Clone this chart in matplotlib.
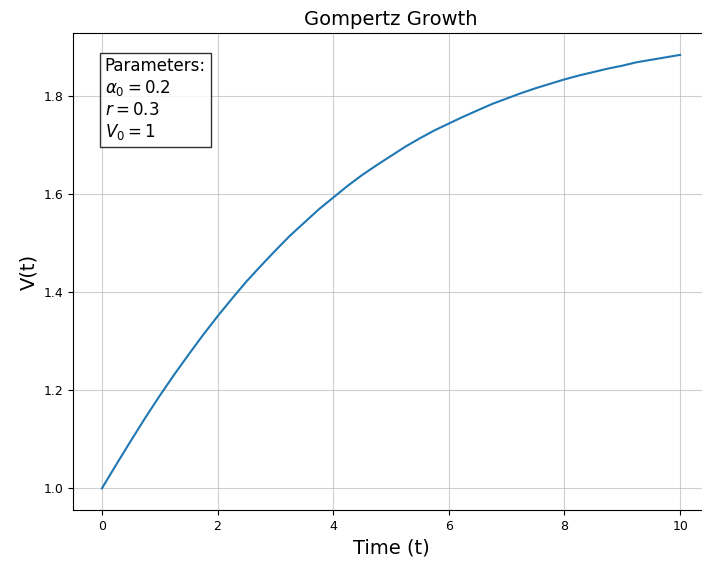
import matplotlib
matplotlib.use("Agg")
import matplotlib.pyplot as plt

# values
t_vals = [0.0, 0.25, 0.5, 0.75, 1.0, 1.25, 1.5, 1.75, 2.0, 2.25, 2.5, 2.75,
          3.0, 3.25, 3.5, 3.75, 4.0, 4.25, 4.5, 4.75, 5.0, 5.25, 5.5, 5.75,
          6.0, 6.25, 6.5, 6.75, 7.0, 7.25, 7.5, 7.75, 8.0, 8.25, 8.5, 8.75,
          9.0, 9.25, 9.5, 9.75, 10.0]
v_vals = [1.000, 1.049, 1.097, 1.144, 1.189, 1.232, 1.273, 1.313, 1.351, 1.387,
          1.422, 1.454, 1.485, 1.515, 1.542, 1.569, 1.593, 1.617, 1.639, 1.659,
          1.678, 1.697, 1.714, 1.730, 1.744, 1.758, 1.771, 1.784, 1.795, 1.806,
          1.816, 1.825, 1.834, 1.842, 1.849, 1.856, 1.862, 1.869, 1.874, 1.879,
          1.884]

param_lines = ["Parameters:", r"$\alpha_0 = 0.2$", r"$r = 0.3$", r"$V_0 = 1$"]

fig = plt.figure(figsize=(7.02, 5.63), dpi=100)
# axes runs slightly past the right edge, as in the reference
ax = fig.add_axes([0.104, 0.094, 0.906, 0.847])

ax.plot(t_vals, v_vals, color="#1f77b4", linewidth=1.5)
ax.set_title("Gompertz Growth", fontsize=14)
ax.set_xlabel("Time (t)", fontsize=14)
ax.set_ylabel("V(t)", fontsize=14)
ax.tick_params(labelsize=9)
ax.grid(True, alpha=0.6)

ax.text(0.05, 0.95, "\n".join(param_lines), transform=ax.transAxes,
        fontsize=12, va="top", ha="left",
        bbox=dict(boxstyle="square", facecolor="white", edgecolor="black", alpha=0.8))

fig.savefig("out.png", dpi=100)
